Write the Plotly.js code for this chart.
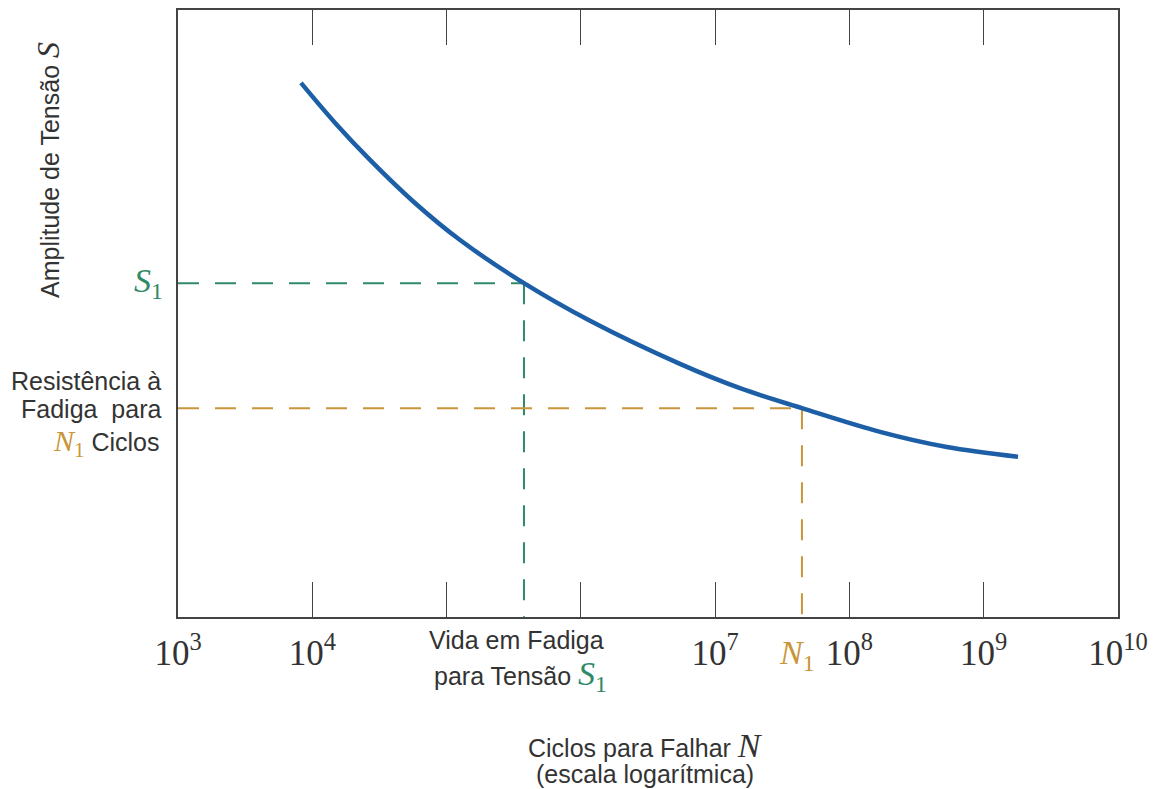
<!DOCTYPE html>
<html><head><meta charset="utf-8">
<script src="https://cdn.plot.ly/plotly-3.0.1.min.js"></script>
<style>html,body{margin:0;padding:0;background:#fff}#chart{width:1167px;height:789px}</style>
</head><body><div id="chart"></div>
<script>
// S-N curve
const cycles = [8.24e3, 1.48e4, 2.69e4, 5.62e4, 1.26e5, 3.77e5, 1.17e6, 5.47e6, 1.53e7, 4.43e7, 1.69e8, 5.32e8, 1.80e9];
const stress = [88.0, 81.4, 75.3, 68.5, 62.1, 55.0, 48.8, 41.7, 37.7, 34.4, 30.5, 28.0, 26.4];
const tickValues = [1e3, 1e4, 1e5, 1e6, 1e7, 1e8, 1e9, 1e10];
const tickLabels = ['10<sup>3</sup>', '10<sup>4</sup>', '', '', '10<sup>7</sup>', '10<sup>8</sup>', '10<sup>9</sup>', '10<sup>10</sup>'];
const S1 = 55.0, N_S1 = 3.77e5;
const N1 = 4.43e7, S_N1 = 34.4;
const xMin = 1e3, yMin = 0;

const green = '#2f8a68', orange = '#c9953a', blue = '#1d5fa6', txt = '#333333';
const serif = 'Liberation Serif, Times New Roman, serif';
const sans = 'Liberation Sans, Arial, sans-serif';

const traces = [
  {x: [xMin, N_S1], y: [S1, S1], mode: 'lines', line: {color: green, width: 2, dash: '21px,16px'}, hoverinfo: 'skip'},
  {x: [N_S1, N_S1], y: [S1, yMin], mode: 'lines', line: {color: green, width: 2, dash: '21px,16px'}, hoverinfo: 'skip'},
  {x: [xMin, N1], y: [S_N1, S_N1], mode: 'lines', line: {color: orange, width: 2, dash: '21px,16px'}, hoverinfo: 'skip'},
  {x: [N1, N1], y: [S_N1, yMin], mode: 'lines', line: {color: orange, width: 2, dash: '21px,16px'}, hoverinfo: 'skip'},
  {x: cycles, y: stress, mode: 'lines', line: {color: blue, width: 4.5, shape: 'spline', smoothing: 1}}
];

const ann = (o) => Object.assign({showarrow: false, xref: 'paper', yref: 'paper'}, o);
const layout = {
  width: 1167, height: 789,
  margin: {l: 178, r: 49, t: 10, b: 172},
  paper_bgcolor: '#fff', plot_bgcolor: '#fff',
  showlegend: false,
  xaxis: {
    type: 'log', range: [3, 10], tickvals: tickValues, ticktext: tickLabels,
    ticks: 'inside', ticklen: 35, tickwidth: 1.2, tickcolor: '#444',
    showline: true, linecolor: '#444', linewidth: 2, mirror: 'allticks',
    showgrid: false, zeroline: false,
    tickfont: {family: serif, size: 35, color: txt},
    ticklabelstandoff: 4
  },
  yaxis: {
    range: [0, 100], showticklabels: false, ticks: '',
    showline: true, linecolor: '#444', linewidth: 2, mirror: true,
    showgrid: false, zeroline: false
  },
  annotations: [
    ann({text: 'Amplitude de Tensão <span style="font-family:Liberation Serif;font-style:italic;font-size:32px">S</span>', textangle: -90, font: {family: sans, size: 25, color: txt}, xanchor: 'center', yanchor: 'middle'}),
    ann({text: '<i>S</i><sub>1</sub>', font: {family: serif, size: 34, color: green}, xanchor: 'right', yanchor: 'middle'}),
    ann({text: 'Resistência à', font: {family: sans, size: 25, color: txt}, xanchor: 'right', yanchor: 'middle'}),
    ann({text: 'Fadiga  para', font: {family: sans, size: 25, color: txt}, xanchor: 'right', yanchor: 'middle'}),
    ann({text: '<span style="font-family:Liberation Serif;color:' + orange + ';font-size:30px"><i>N</i><sub>1</sub></span> Ciclos', font: {family: sans, size: 25, color: txt}, xanchor: 'right', yanchor: 'middle'}),
    ann({text: 'Vida em Fadiga', font: {family: sans, size: 25, color: txt}, xanchor: 'center', yanchor: 'middle'}),
    ann({text: 'para Tensão <span style="font-family:Liberation Serif;color:' + green + ';font-size:34px"><i>S</i><sub>1</sub></span>', font: {family: sans, size: 25, color: txt}, xanchor: 'center', yanchor: 'middle'}),
    ann({text: '<i>N</i><sub>1</sub>', font: {family: serif, size: 34, color: orange}, xanchor: 'center', yanchor: 'middle'}),
    ann({text: 'Ciclos para Falhar <span style="font-family:Liberation Serif;font-size:34px"><i>N</i></span>', font: {family: sans, size: 25, color: txt}, xanchor: 'center', yanchor: 'middle'}),
    ann({text: '(escala logarítmica)', font: {family: sans, size: 25, color: txt}, xanchor: 'center', yanchor: 'middle'})
  ]
};

// place annotations in pixel terms relative to the plot area
const plotL = 178, plotT = 10, plotW = 1167 - 178 - 49, plotH = 789 - 10 - 172;
const px = (x) => (x - plotL) / plotW;
const py = (y) => (plotT + plotH - y) / plotH;
const pos = [[48, 170], [165, 283], [163, 381], [163, 409], [162, 443], [516, 640], [520, 676], [797, 655], [645, 745], [645, 774]];
layout.annotations.forEach((a, i) => { a.x = px(pos[i][0]); a.y = py(pos[i][1]); });

Plotly.newPlot('chart', traces, layout, {displayModeBar: false, staticPlot: true});
</script></body></html>
